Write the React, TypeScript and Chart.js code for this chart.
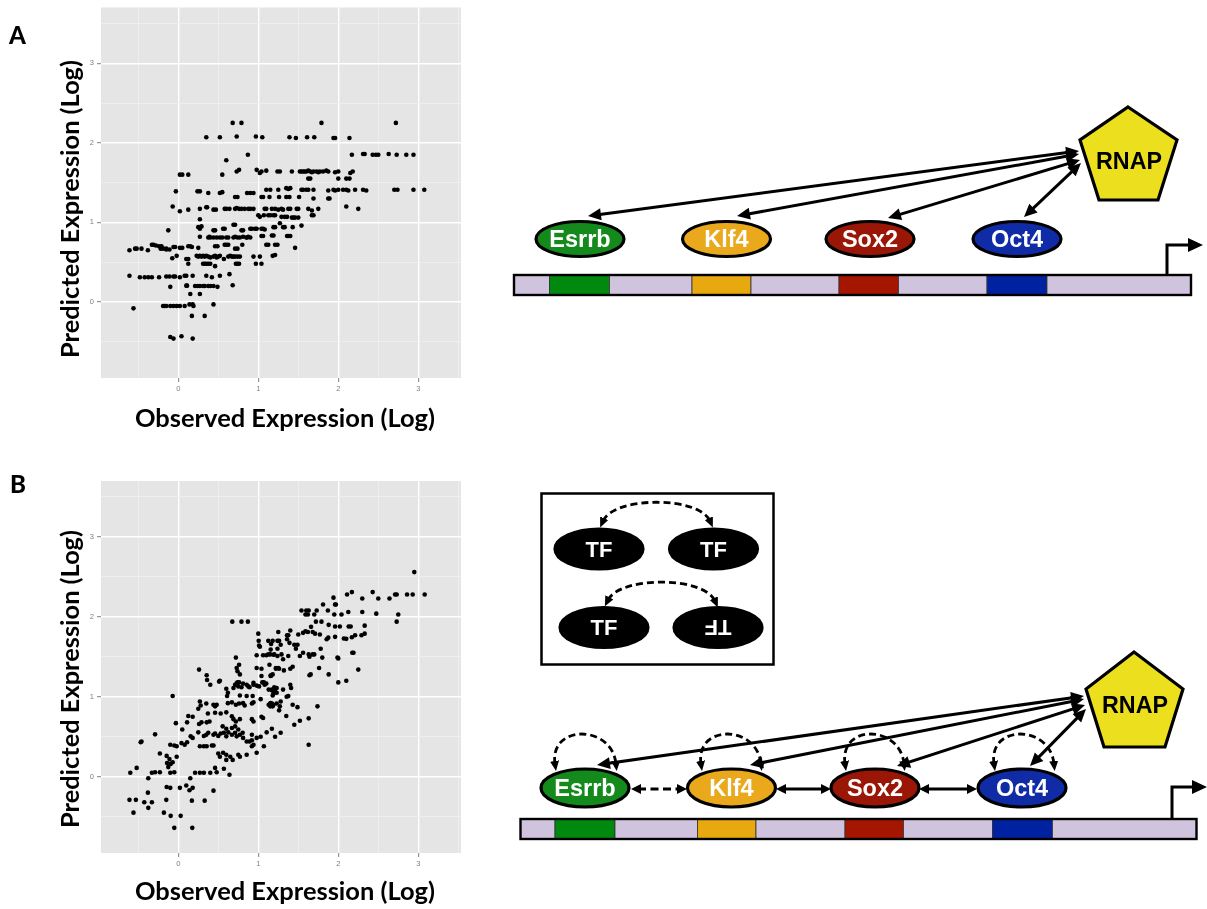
import React, { useEffect, useRef } from 'react';
import { Chart, registerables } from 'chart.js';

Chart.register(...registerables);

// Axis settings shared by both scatter panels
const GRID_STEPS = [-0.5, 0, 0.5, 1, 1.5, 2, 2.5, 3, 3.5];
const X_RANGE = [-0.966, 3.534];
const Y_RANGE = [-0.955, 3.7];

// [observed, predicted] log expression, model A (independent binding)
const pointsA: [number, number][] = [
  [0.68, 2.25], [0.79, 2.25], [1.79, 2.25], [2.72, 2.25],
  [0.35, 2.07], [0.52, 2.07], [0.73, 2.08], [0.97, 2.08], [1.05, 2.07], [1.39, 2.07], [1.47, 2.06], [1.61, 2.07], [1.7, 2.07], [1.94, 2.06], [1.96, 2.06], [2.14, 2.06],
  [0.87, 1.85], [2.17, 1.85], [2.31, 1.86], [2.33, 1.86], [2.43, 1.85], [2.47, 1.85], [2.5, 1.85], [2.63, 1.86], [2.73, 1.85], [2.85, 1.85], [2.94, 1.85],
  [0.6, 1.78],
  [0.02, 1.6], [0.05, 1.6], [0.125, 1.6], [0.55, 1.6],
  [0.73, 1.64], [0.76, 1.66], [0.98, 1.66], [1.02, 1.62], [1.04, 1.64], [1.1, 1.65], [1.24, 1.64], [1.27, 1.64], [1.42, 1.64], [1.52, 1.64], [1.54, 1.64], [1.56, 1.64], [1.58, 1.64], [1.6, 1.64], [1.625, 1.65], [1.65, 1.64], [1.67, 1.63], [1.69, 1.64], [1.73, 1.64], [1.75, 1.63], [1.77, 1.64], [1.81, 1.64], [1.85, 1.65], [1.875, 1.64], [1.96, 1.63], [2.0, 1.64], [2.15, 1.62], [2.18, 1.64],
  [1.625, 1.55], [1.65, 1.55], [2.0, 1.55], [2.1, 1.55], [2.14, 1.55],
  [-0.03, 1.39], [0.24, 1.39], [0.27, 1.39], [0.375, 1.37], [0.52, 1.37], [0.55, 1.38], [0.71, 1.32], [0.74, 1.32], [0.86, 1.37], [0.9, 1.37], [0.94, 1.37], [1.1, 1.41], [1.15, 1.41], [1.25, 1.41], [1.35, 1.43], [1.375, 1.42], [1.4, 1.43], [1.54, 1.41], [1.56, 1.41], [1.6, 1.41], [1.625, 1.41], [1.69, 1.41], [1.875, 1.4], [1.94, 1.41], [1.96, 1.4], [2.0, 1.41], [2.06, 1.41], [2.1, 1.41], [2.125, 1.4], [2.21, 1.41], [2.31, 1.41], [2.35, 1.4], [2.7, 1.41], [2.74, 1.41], [2.94, 1.41], [3.075, 1.41],
  [1.04, 1.32], [1.06, 1.32], [1.14, 1.32], [1.26, 1.32], [1.35, 1.32], [1.39, 1.32], [1.51, 1.32], [1.69, 1.3], [1.875, 1.3], [1.89, 1.3],
  [-0.07, 1.2], [0.02, 1.14], [0.125, 1.16], [0.27, 1.17], [0.35, 1.19], [0.36, 1.19], [0.44, 1.16], [0.47, 1.16], [0.58, 1.17], [0.6, 1.17], [0.64, 1.17], [0.71, 1.17], [0.73, 1.18], [0.76, 1.17], [0.79, 1.17], [0.83, 1.17], [0.875, 1.17], [0.9, 1.17], [0.94, 1.17], [1.08, 1.17], [1.1, 1.17], [1.17, 1.17], [1.21, 1.17], [1.25, 1.16], [1.29, 1.17], [1.31, 1.16], [1.375, 1.17], [1.4, 1.17], [1.48, 1.17], [1.5, 1.17], [1.625, 1.17], [1.67, 1.15], [1.75, 1.17], [2.1, 1.2], [2.25, 1.17],
  [0.27, 1.04], [1.0, 1.09], [1.02, 1.07], [1.07, 1.09], [1.125, 1.09], [1.15, 1.09], [1.19, 1.09], [1.21, 1.09], [1.29, 1.07], [1.33, 1.07], [1.36, 1.07], [1.42, 1.06], [1.44, 1.06], [1.46, 1.06], [1.5, 1.06], [1.67, 1.09], [1.69, 1.09],
  [1.27, 0.99], [1.54, 0.96],
  [-0.125, 0.9], [0.25, 0.94], [0.27, 0.92], [0.29, 0.95], [0.44, 0.9], [0.46, 0.9], [0.56, 0.92], [0.58, 0.92], [0.69, 0.97], [0.71, 0.97], [0.79, 0.9], [0.81, 0.9], [0.9, 0.92], [0.92, 0.92], [0.96, 0.92], [0.98, 0.92], [1.04, 0.92], [1.06, 0.92], [1.08, 0.91], [1.19, 0.94], [1.21, 0.94], [1.31, 0.94], [1.33, 0.94], [1.43, 0.94],
  [0.27, 0.82], [0.375, 0.81], [0.39, 0.82], [0.4, 0.81], [0.44, 0.81], [0.48, 0.81], [0.52, 0.81], [0.55, 0.81], [0.6, 0.81], [0.625, 0.81], [0.69, 0.81], [0.71, 0.82], [0.74, 0.81], [0.77, 0.81], [0.81, 0.82], [0.85, 0.81], [0.86, 0.81], [0.875, 0.82], [0.9, 0.81], [1.04, 0.83], [1.06, 0.83], [1.17, 0.835], [1.19, 0.835], [1.36, 0.83], [1.375, 0.83], [1.4, 0.83],
  [-0.33, 0.72], [-0.31, 0.72], [-0.28, 0.71], [-0.24, 0.7], [-0.21, 0.7], [-0.15, 0.66], [-0.11, 0.66], [-0.06, 0.69], [-0.04, 0.69], [0.02, 0.68], [0.05, 0.68], [0.125, 0.7], [0.15, 0.7], [0.17, 0.69], [0.25, 0.68], [0.46, 0.7], [0.49, 0.7], [0.58, 0.72], [0.6, 0.72], [0.625, 0.72], [0.71, 0.67], [0.74, 0.67], [0.8, 0.72], [1.1, 0.72], [1.125, 0.72], [1.21, 0.72], [1.24, 0.72], [1.46, 0.68],
  [-0.61, 0.65], [-0.54, 0.67], [-0.52, 0.67], [-0.46, 0.67], [-0.38, 0.65], [-0.22, 0.67], [-0.19, 0.67], [-0.15, 0.67],
  [-0.075, 0.55], [-0.02, 0.58], [0.1, 0.54], [0.125, 0.54], [0.23, 0.58], [0.25, 0.57], [0.27, 0.58], [0.29, 0.57], [0.31, 0.58], [0.33, 0.57], [0.35, 0.58], [0.375, 0.57], [0.4, 0.56], [0.44, 0.57], [0.46, 0.58], [0.48, 0.56], [0.5, 0.57], [0.52, 0.58], [0.57, 0.54], [0.625, 0.57], [0.65, 0.58], [0.67, 0.57], [0.69, 0.57], [0.71, 0.57], [0.74, 0.57], [0.77, 0.57], [0.94, 0.57], [1.02, 0.57], [1.18, 0.58], [1.21, 0.59],
  [0.125, 0.48], [0.31, 0.48], [0.33, 0.48], [0.35, 0.48], [0.375, 0.48], [0.4, 0.48], [0.46, 0.45], [0.72, 0.48], [0.74, 0.48], [0.76, 0.48], [0.97, 0.48], [1.04, 0.48],
  [-0.61, 0.33], [-0.48, 0.31], [-0.42, 0.31], [-0.375, 0.31], [-0.33, 0.31], [-0.24, 0.31], [-0.15, 0.32], [-0.11, 0.32], [-0.06, 0.32], [-0.04, 0.32], [0.02, 0.31], [0.08, 0.33], [0.1, 0.33], [0.18, 0.33], [0.35, 0.33], [0.42, 0.31], [0.52, 0.33], [0.64, 0.35],
  [-0.1, 0.19], [0.1, 0.205], [0.11, 0.205], [0.21, 0.2], [0.24, 0.2], [0.27, 0.2], [0.31, 0.2], [0.33, 0.2], [0.375, 0.2], [0.4, 0.2], [0.44, 0.2], [0.49, 0.19], [0.68, 0.21],
  [0.15, 0.1], [0.27, 0.1],
  [-0.56, -0.08], [-0.19, -0.05], [-0.17, -0.05], [-0.15, -0.05], [-0.1, -0.05], [-0.06, -0.05], [-0.02, -0.05], [0.02, -0.05], [0.08, -0.05], [0.14, -0.03], [0.18, -0.03], [0.19, -0.05], [0.44, -0.03],
  [0.17, -0.175], [0.33, -0.175],
  [-0.1, -0.44], [-0.06, -0.46], [0.04, -0.43], [0.18, -0.46],
];

// [observed, predicted] log expression, model B (cooperative binding)
const pointsB: [number, number][] = [
  [2.95, 2.56], [1.94, 2.24], [2.11, 2.28], [2.17, 2.31], [2.3, 2.23], [2.43, 2.31], [2.5, 2.23], [2.64, 2.23], [2.71, 2.28], [2.73, 2.28], [2.86, 2.28], [2.93, 2.28], [3.08, 2.28],
  [1.81, 2.155], [1.96, 2.155], [1.97, 2.155],
  [1.54, 2.08], [1.6, 2.08], [1.63, 2.08], [1.73, 2.08], [1.59, 2.03], [1.62, 2.03], [1.7, 2.03], [1.87, 2.08], [1.95, 2.03], [2.04, 2.03], [2.125, 2.06], [2.3, 2.06], [2.475, 2.04], [2.75, 2.03], [2.73, 1.94],
  [1.72, 1.94], [1.79, 1.94], [1.66, 1.875], [1.88, 1.9], [1.96, 1.88], [2.02, 1.88], [2.13, 1.88], [2.155, 1.88], [2.33, 1.89],
  [1.59, 1.82], [1.62, 1.81], [1.56, 1.8], [1.4, 1.83], [1.5, 1.78], [1.25, 1.81], [1.36, 1.77], [1.68, 1.81], [1.71, 1.79], [1.77, 1.78], [1.875, 1.74], [1.855, 1.72], [1.96, 1.75], [2.07, 1.73], [2.17, 1.745], [2.21, 1.77], [2.29, 1.77], [2.33, 1.79],
  [1.18, 1.7], [1.24, 1.7], [1.26, 1.7], [1.28, 1.65], [1.45, 1.65], [1.49, 1.65], [1.24, 1.6], [1.47, 1.6], [1.15, 1.53], [1.2, 1.53], [1.24, 1.51], [1.29, 1.53], [1.31, 1.47], [1.375, 1.51], [1.52, 1.51], [1.56, 1.55], [1.63, 1.53], [1.68, 1.53], [1.7, 1.53], [1.64, 1.5], [1.8, 1.49], [1.78, 1.6], [1.99, 1.49], [2.175, 1.55], [2.19, 1.55],
  [1.22, 1.35], [1.26, 1.35], [1.32, 1.33], [1.4, 1.35], [1.43, 1.375], [1.64, 1.27], [1.655, 1.28], [1.76, 1.36], [1.88, 1.28], [2.25, 1.34], [1.18, 1.28], [1.155, 1.26], [2.0, 1.18], [2.1, 1.2], [1.4, 1.15], [1.41, 1.11],
  [0.675, 1.94], [0.79, 1.94], [0.87, 1.94], [1.0, 1.79], [1.005, 1.7], [1.01, 1.64], [1.02, 1.625], [1.125, 1.7], [1.16, 1.66], [0.98, 1.52], [1.06, 1.52], [1.1, 1.52], [1.125, 1.53], [0.72, 1.49], [1.19, 1.525], [0.73, 1.36], [0.76, 1.4], [0.74, 1.32], [0.77, 1.28], [0.98, 1.36], [1.04, 1.35], [1.14, 1.4], [1.16, 1.265], [1.22, 1.36], [1.25, 1.36], [0.26, 1.34], [0.355, 1.27], [0.36, 1.21], [0.52, 1.2], [0.4, 1.15], [0.71, 1.15], [0.73, 1.17], [0.76, 1.18], [0.75, 1.13],
  [0.6, 1.1], [0.69, 1.11], [0.855, 1.15], [0.875, 1.13], [0.94, 1.175], [0.98, 1.14], [1.04, 1.26], [1.07, 1.18], [1.1, 1.165], [1.155, 1.265], [1.2, 1.12], [1.23, 1.11],
  [-0.07, 1.01], [0.51, 1.19], [0.62, 1.05], [0.74, 1.18], [0.79, 1.12], [0.81, 1.165], [0.89, 1.12], [0.94, 1.15], [1.01, 1.13], [1.05, 1.18], [1.08, 1.15], [1.13, 1.09], [1.17, 1.08], [1.21, 1.1], [1.23, 1.05],
  [0.61, 1.01], [0.77, 1.015], [0.855, 1.01], [0.93, 1.01], [1.03, 0.97], [1.15, 0.915], [1.19, 0.9],
  [0.27, 0.94], [0.25, 0.85], [0.28, 0.89], [0.35, 0.915], [0.44, 0.9], [0.46, 0.88], [0.48, 0.9], [0.62, 0.92], [0.67, 0.93], [0.72, 0.9], [0.76, 0.915], [0.81, 0.92], [0.83, 0.89], [0.92, 0.915], [0.94, 0.93], [1.13, 0.9], [1.155, 0.92], [1.18, 0.88],
  [0.125, 0.76], [0.11, 0.68], [0.18, 0.75], [0.26, 0.66], [0.29, 0.68], [0.355, 0.68], [0.39, 0.69], [0.37, 0.79], [0.46, 0.8], [0.53, 0.79], [0.6, 0.805], [0.67, 0.755], [0.69, 0.72], [0.72, 0.69], [0.77, 0.72], [0.92, 0.72], [0.94, 0.69], [1.04, 0.75], [1.06, 0.735],
  [-0.03, 0.67], [0.05, 0.59], [-0.29, 0.53], [-0.47, 0.43], [-0.46, 0.44],
  [-0.1, 0.4], [-0.05, 0.39], [-0.02, 0.38], [0.04, 0.42], [0.08, 0.4], [0.11, 0.43],
  [0.155, 0.505], [0.18, 0.485], [0.25, 0.555], [0.32, 0.51], [0.35, 0.525], [0.375, 0.55], [0.44, 0.525], [0.46, 0.54], [0.5, 0.51], [0.53, 0.54], [0.57, 0.55], [0.6, 0.505], [0.625, 0.555], [0.67, 0.525], [0.71, 0.55], [0.73, 0.505], [0.77, 0.525], [0.81, 0.485], [0.855, 0.44], [0.89, 0.44], [0.92, 0.455],
  [0.27, 0.38], [0.32, 0.38], [0.355, 0.38], [0.42, 0.39], [0.44, 0.39], [0.5, 0.29], [0.52, 0.25], [0.56, 0.3], [0.6, 0.275], [0.6, 0.21], [0.65, 0.25], [0.68, 0.21], [0.75, 0.275], [0.77, 0.25], [0.855, 0.275], [0.92, 0.38], [0.94, 0.4], [0.98, 0.3], [1.07, 0.38],
  [0.57, 0.1], [0.64, 0.025], [0.48, 0.055], [0.46, 0.11], [0.4, 0.05], [0.32, 0.05], [0.27, 0.05], [0.21, 0.05], [0.15, -0.02],
  [0.44, -0.175], [0.33, -0.3], [0.17, -0.3], [0.18, -0.14], [0.14, -0.17], [0.1, -0.11], [0.02, -0.14], [-0.1, -0.14], [-0.145, -0.13],
  [-0.05, 0.055], [-0.1, 0.05], [-0.23, 0.055], [-0.29, 0.055], [-0.33, 0.05], [-0.375, -0.02], [-0.52, 0.11], [-0.6, 0.05],
  [-0.02, 0.25], [-0.11, 0.22], [-0.07, 0.18], [-0.095, 0.16], [-0.125, 0.12], [-0.23, 0.29], [-0.145, 0.26], [-0.14, 0.17],
  [-0.61, -0.29], [-0.53, -0.29], [-0.38, -0.2], [-0.425, -0.32], [-0.33, -0.32], [-0.375, -0.39], [-0.56, -0.45], [-0.18, -0.45], [-0.15, -0.29], [-0.095, -0.49], [0.03, -0.49], [-0.05, -0.64], [0.175, -0.64],
  [1.17, 1.09], [1.21, 1.06], [1.19, 1.04], [1.31, 1.09], [1.375, 1.01], [1.355, 1.0], [1.18, 1.015], [1.28, 0.94], [1.17, 0.915], [1.15, 0.88], [1.23, 0.915], [1.27, 0.88], [1.26, 0.83], [1.43, 0.9], [1.49, 0.87], [1.74, 0.88], [1.35, 0.76], [1.45, 0.65], [1.52, 0.7], [1.63, 0.73], [1.17, 0.6], [1.28, 0.55], [1.21, 0.5], [1.63, 0.4],
  [0.555, 0.63], [0.6, 0.6], [0.67, 0.61], [0.71, 0.63], [0.75, 0.59], [0.805, 0.55], [0.92, 0.525], [0.98, 0.485], [1.03, 0.5], [1.105, 0.555],
  [1.155, 1.59], [1.375, 1.77], [1.36, 1.72], [1.39, 1.675], [2.1, 1.725], [2.0, 1.48],
];

const GENES = ['Esrrb', 'Klf4', 'Sox2', 'Oct4'];
const FACTOR_FILL = ['#138A1B', '#EAA81C', '#9A1606', '#102BA6'];
const SITE_FILL = ['#00890E', '#E8A80F', '#A51500', '#0022A0'];
const LINKER_FILL = '#CFC3DE';

const isMajor = (v: number | undefined) => v !== undefined && Math.abs(v - Math.round(v)) < 1e-6;

const panelBackground = {
  id: 'panelBackground',
  beforeDraw(chart: any) {
    const { ctx, chartArea: a } = chart;
    ctx.save();
    ctx.fillStyle = '#E5E5E5';
    ctx.fillRect(a.left, a.top, a.right - a.left, a.bottom - a.top);
    ctx.restore();
  },
};

function axisOptions(range: number[], horizontal: boolean) {
  return {
    type: 'linear',
    min: range[0],
    max: range[1],
    afterBuildTicks: (scale: any) => {
      scale.ticks = GRID_STEPS.map((value) => ({ value }));
    },
    afterFit: (scale: any) => {
      if (horizontal) scale.height = 22;
      else scale.width = 101;
    },
    border: { display: false },
    grid: {
      color: (c: any) => (isMajor(c.tick?.value) ? '#FFFFFF' : '#F2F2F2'),
      lineWidth: (c: any) => (isMajor(c.tick?.value) ? 1.4 : 0.7),
      tickLength: 4,
      tickWidth: 1,
      tickColor: (c: any) => (isMajor(c.tick?.value) ? '#7F7F7F' : 'rgba(0,0,0,0)'),
    },
    ticks: {
      autoSkip: false,
      maxRotation: 0,
      padding: horizontal ? 2 : 3,
      color: '#7F7F7F',
      font: { family: 'Liberation Sans, Arial, sans-serif', size: 7.5 },
      callback: (v: number) => (isMajor(v) ? String(Math.round(v)) : ''),
    },
  };
}

function ScatterPanel({ points, top, height, padTop }: { points: [number, number][]; top: number; height: number; padTop: number }) {
  const ref = useRef<HTMLCanvasElement>(null);
  useEffect(() => {
    const chart = new Chart(ref.current as HTMLCanvasElement, {
      type: 'scatter',
      data: {
        datasets: [
          {
            data: points.map(([x, y]) => ({ x, y })),
            pointRadius: 2.3,
            pointHoverRadius: 2.3,
            pointBackgroundColor: '#000000',
            pointBorderWidth: 0,
          },
        ],
      },
      options: {
        animation: false,
        responsive: false,
        devicePixelRatio: 1,
        events: [],
        layout: { padding: { top: padTop, right: 9, left: 0, bottom: 0 } },
        plugins: { legend: { display: false }, tooltip: { enabled: false } },
        scales: {
          x: axisOptions(X_RANGE, true),
          y: axisOptions(Y_RANGE, false),
        },
      } as any,
      plugins: [panelBackground],
    });
    return () => chart.destroy();
  }, [points, padTop]);
  return (
    <canvas
      ref={ref}
      width={470}
      height={height}
      style={{ position: 'absolute', left: 0, top, width: 470, height }}
    />
  );
}

type Pt = [number, number];

function Arrow({ a, b, dashed = false, small = false, width = 3 }: { a: Pt; b: Pt; dashed?: boolean; small?: boolean; width?: number }) {
  const L = small ? 10 : 13;
  const W = small ? 5 : 6;
  const dx = b[0] - a[0];
  const dy = b[1] - a[1];
  const len = Math.hypot(dx, dy);
  const ux = dx / len;
  const uy = dy / len;
  const head = (t: Pt, sx: number, sy: number) => {
    const bx = t[0] - sx * L;
    const by = t[1] - sy * L;
    return `${t[0]},${t[1]} ${bx - sy * W},${by + sx * W} ${bx + sy * W},${by - sx * W}`;
  };
  return (
    <g>
      <line
        x1={a[0] + ux * (L - 3)}
        y1={a[1] + uy * (L - 3)}
        x2={b[0] - ux * (L - 3)}
        y2={b[1] - uy * (L - 3)}
        stroke="#000"
        strokeWidth={width}
        strokeDasharray={dashed ? '8 4.5' : undefined}
      />
      <polygon points={head(b, ux, uy)} fill="#000" />
      <polygon points={head(a, -ux, -uy)} fill="#000" />
    </g>
  );
}

function Factor({ cx, cy, rx, ry, fill, label, size = 23.5, flip = false }: { cx: number; cy: number; rx: number; ry: number; fill: string; label: string; size?: number; flip?: boolean }) {
  return (
    <g>
      <ellipse cx={cx} cy={cy} rx={rx} ry={ry} fill={fill} stroke="#000" strokeWidth={3.2} />
      <text
        x={cx}
        y={cy + size * 0.36}
        textAnchor="middle"
        fill="#FFFFFF"
        fontFamily="Liberation Sans, Arial, sans-serif"
        fontWeight="bold"
        fontSize={size}
        transform={flip ? `rotate(180 ${cx} ${cy})` : undefined}
      >
        {label}
      </text>
    </g>
  );
}

function Promoter({ x0, x1, y, bounds, tss }: { x0: number; x1: number; y: number; bounds: number[]; tss: { x: number; top: number; tip: number } }) {
  const edges = [x0, ...bounds, x1];
  const segs = [];
  for (let i = 0; i < edges.length - 1; i++) {
    const site = i % 2 === 1 ? SITE_FILL[(i - 1) / 2] : LINKER_FILL;
    segs.push(<rect key={i} x={edges[i]} y={y} width={edges[i + 1] - edges[i]} height={20} fill={site} stroke="#333" strokeWidth={0.8} />);
  }
  return (
    <g>
      <path d={`M${tss.x},${y} V${tss.top} H${tss.tip - 12}`} fill="none" stroke="#000" strokeWidth={3} />
      <polygon points={`${tss.tip - 15},${tss.top - 7} ${tss.tip},${tss.top} ${tss.tip - 15},${tss.top + 7}`} fill="#000" />
      {segs}
      <rect x={x0} y={y} width={x1 - x0} height={20} fill="none" stroke="#000" strokeWidth={2.4} />
    </g>
  );
}

function Rnap({ pts, textY }: { pts: Pt[]; textY: number }) {
  const cx = pts[0][0];
  return (
    <g>
      <polygon points={pts.map((p) => p.join(',')).join(' ')} fill="#ECE01E" stroke="#000" strokeWidth={3.2} strokeLinejoin="miter" />
      <text x={cx + 1} y={textY} textAnchor="middle" fontFamily="Liberation Sans, Arial, sans-serif" fontWeight="bold" fontSize={24} textLength={66} lengthAdjust="spacingAndGlyphs" fill="#000">
        RNAP
      </text>
    </g>
  );
}

function Diagrams() {
  const titleFont = 'Lato, "Open Sans", sans-serif';
  const cxA = [580, 726.5, 870, 1017];
  const cxB = [585, 731.5, 875, 1022];
  const loopsB = [
    [555, 616],
    [701, 761],
    [845, 904],
    [994, 1054],
  ];
  return (
    <svg width={1207} height={909} style={{ position: 'absolute', left: 0, top: 0, pointerEvents: 'none' }}>
      <defs>
        <marker id="tipSmall" viewBox="0 0 10 9" refX="3" refY="4.5" markerWidth="10" markerHeight="9" markerUnits="userSpaceOnUse" orient="auto-start-reverse">
          <path d="M0,0 L10,4.5 L0,9 z" fill="#000" />
        </marker>
      </defs>

      {/* panel letters and axis titles */}
      <text x={9} y={44} fontFamily={titleFont} fontWeight="900" fontSize={24}>A</text>
      <text x={10} y={493} fontFamily={titleFont} fontWeight="900" fontSize={24}>B</text>
      {[{ cy: 209, by: 427 }, { cy: 679, by: 900 }].map((t, i) => (
        <g key={i}>
          <text transform={`translate(79,${t.cy}) rotate(-90)`} textAnchor="middle" fontFamily={titleFont} fontWeight="bold" fontSize={25} textLength={298} lengthAdjust="spacingAndGlyphs">
            Predicted Expression (Log)
          </text>
          <text x={285} y={t.by} textAnchor="middle" fontFamily={titleFont} fontWeight="bold" fontSize={25} textLength={300} lengthAdjust="spacingAndGlyphs">
            Observed Expression (Log)
          </text>
        </g>
      ))}

      {/* A: independent recruitment of RNAP by each factor */}
      <Promoter x0={514} x1={1191} y={275} bounds={[549.5, 609.5, 692, 751, 839, 898.5, 987, 1047]} tss={{ x: 1167, top: 245, tip: 1203 }} />
      {GENES.map((g, i) => (
        <Factor key={g} cx={cxA[i]} cy={239} rx={44} ry={17.5} fill={FACTOR_FILL[i]} label={g} />
      ))}
      <Arrow a={[588, 216]} b={[1079, 151]} />
      <Arrow a={[737, 216]} b={[1079, 154]} />
      <Arrow a={[888, 218]} b={[1080, 160]} />
      <Arrow a={[1024, 217]} b={[1081, 163]} />
      <Rnap pts={[[1128, 107], [1177, 140], [1158, 200], [1099, 200], [1080, 140]]} textY={169} />

      {/* B: legend of factor pairing orientations */}
      <rect x={541.5} y={493.5} width={232} height={171} fill="#fff" stroke="#000" strokeWidth={2.5} />
      <Factor cx={599} cy={549} rx={44} ry={20} fill="#000" label="TF" size={22} />
      <Factor cx={713.5} cy={549} rx={44} ry={20} fill="#000" label="TF" size={22} />
      <Factor cx={604} cy={627.5} rx={44} ry={20} fill="#000" label="TF" size={22} />
      <Factor cx={718} cy={627.5} rx={44} ry={20} fill="#000" label="TF" size={22} flip />
      <path d="M603,521 C614,496 699,496 710,521" fill="none" stroke="#000" strokeWidth={2.8} strokeDasharray="7 4" markerStart="url(#tipSmall)" markerEnd="url(#tipSmall)" />
      <path d="M608,600 C620,576 704,576 715,601" fill="none" stroke="#000" strokeWidth={2.8} strokeDasharray="7 4" markerStart="url(#tipSmall)" markerEnd="url(#tipSmall)" />

      {/* B: cooperative binding between neighbouring factors */}
      <Promoter x0={520.5} x1={1196.5} y={819} bounds={[555, 615, 697.5, 756, 845, 903.5, 992.5, 1052.5]} tss={{ x: 1172, top: 787, tip: 1207 }} />
      {loopsB.map(([l, r], i) => (
        <path
          key={i}
          d={`M${l},764 C${l - 6},724 ${r - 4},724 ${r},764`}
          fill="none"
          stroke="#000"
          strokeWidth={2.8}
          strokeDasharray="7 4"
          markerStart="url(#tipSmall)"
          markerEnd="url(#tipSmall)"
        />
      ))}
      {GENES.map((g, i) => (
        <Factor key={g} cx={cxB[i]} cy={788} rx={44} ry={19} fill={FACTOR_FILL[i]} label={g} />
      ))}
      <Arrow a={[631, 789]} b={[687, 789]} dashed small />
      <Arrow a={[776, 789]} b={[831, 789]} small />
      <Arrow a={[919, 789]} b={[977, 789]} small />
      <Arrow a={[597, 765]} b={[1084, 696]} />
      <Arrow a={[750, 765]} b={[1084, 699]} />
      <Arrow a={[897, 766]} b={[1085, 705]} />
      <Arrow a={[1030, 766]} b={[1086, 709]} />
      <Rnap pts={[[1134, 652], [1183, 689], [1165, 747], [1104, 747], [1086, 689]]} textY={713} />
    </svg>
  );
}

export default function App() {
  return (
    <div style={{ position: 'absolute', left: 0, top: 0, width: 1207, height: 909, background: '#fff', overflow: 'hidden' }}>
      <ScatterPanel points={pointsA} top={0} height={400} padTop={7} />
      <ScatterPanel points={pointsB} top={470} height={405} padTop={11} />
      <Diagrams />
    </div>
  );
}
